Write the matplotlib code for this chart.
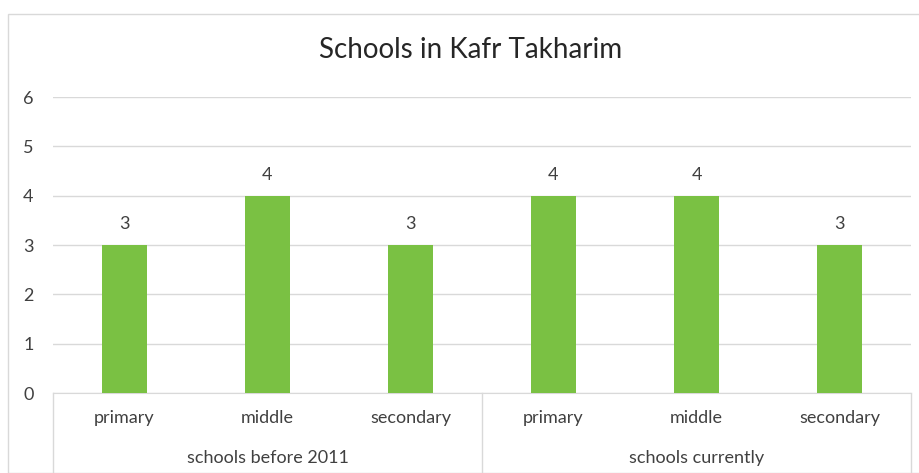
import matplotlib
matplotlib.use("Agg")
import matplotlib.pyplot as plt
import matplotlib.transforms as mtransforms
from matplotlib.patches import Rectangle

# Schools in Kafr Takharim, grouped by period
groups = ["schools before 2011", "schools currently"]
levels = ["primary", "middle", "secondary"]
before_2011 = [3, 4, 3]
currently = [4, 4, 3]

values = before_2011 + currently
labels = levels + levels

plt.rcParams["font.family"] = ["Lato", "DejaVu Sans"]

W, H = 919, 473
fig = plt.figure(figsize=(W / 100, H / 100), dpi=100)

# light frame around the chart
fig.patches.append(Rectangle((8 / W, 0), 1.0, 1 - 14 / H, transform=fig.transFigure,
                             fill=False, edgecolor="#d9d9d9", linewidth=1.0))

ax = fig.add_axes([53 / W, (H - 393) / H, (911 - 53) / W, (393 - 97) / H])

txt = "#404040"
fs = 13

x = list(range(len(values)))
ax.bar(x, values, width=0.315, color="#7ac143", zorder=3)
for xi, v in zip(x, values):
    ax.text(xi, v + 0.26, str(v), ha="center", va="bottom", fontsize=fs, color=txt)

ax.set_xlim(-0.5, len(values) - 0.5)
ax.set_ylim(0, 6)
ax.set_yticks(range(0, 7))
ax.tick_params(axis="y", length=0, labelsize=fs, labelcolor=txt, pad=14)
ax.set_xticks([])
ax.grid(axis="y", color="#d9d9d9", linewidth=1.0, zorder=0)
for s in ["top", "right", "left"]:
    ax.spines[s].set_visible(False)
ax.spines["bottom"].set_color("#d9d9d9")

# two-level category axis below the plot
trans = mtransforms.blended_transform_factory(ax.transData, fig.transFigure)
y_axis = (H - 393) / H
for xs in [-0.5, 2.5, 5.5]:
    ax.plot([xs, xs], [y_axis, 0], color="#d9d9d9", linewidth=1.0,
            transform=trans, clip_on=False)
for xi, lab in zip(x, labels):
    ax.text(xi, (H - 418) / H, lab, transform=trans, ha="center", va="center",
            fontsize=fs, color=txt)
for gi, g in enumerate(groups):
    ax.text(gi * 3 + 1, (H - 458) / H, g, transform=trans, ha="center", va="center",
            fontsize=fs, color=txt)

fig.text(471 / W, (H - 50) / H, "Schools in Kafr Takharim", ha="center", va="center",
         fontsize=20, color="#262626")

fig.savefig("out.png", dpi=100)
